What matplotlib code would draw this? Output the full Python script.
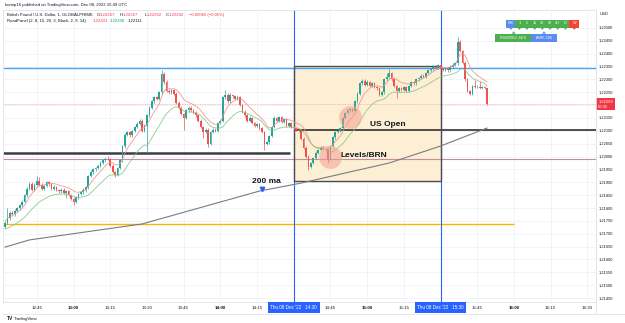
import numpy as np
import pandas as pd
import matplotlib
matplotlib.use("Agg")
import matplotlib.pyplot as plt
from matplotlib.patches import Rectangle, Polygon

plt.rcParams['font.family'] = ['Liberation Sans', 'DejaVu Sans']

# GBP/USD 1 minute candles from 12:32 to 15:49
# values are points above 1.22000 (1 point = 0.00001)
base = 1.22
start_minute = 32  # minutes after 12:00

opens_pts = [
    -274, -258, -240, -218, -225, -210, -200, -190, -175, -150,
    -125, -105, -128, -110, -95, -110, -125, -115, -100, -108,
    -125, -118, -130, -135, -128, -140, -135, -150, -165, -175,
    -158, -145, -138, -130, -120, -75, -60, -50, -45, -35,
    -25, -15, -8, -10, -35, -60, -72, -45, -15, 40,
    85, 95, 82, 100, 115, 128, 140, 100, 120, 160,
    190, 215, 230, 225, 250, 320, 290, 255, 250, 258,
    245, 210, 190, 165, 150, 180, 190, 180, 170, 160,
    140, 115, 95, 105, 50, 95, 105, 100, 130, 140,
    230, 240, 215, 240, 235, 225, 230, 200, 175, 160,
    140, 150, 130, 120, 125, 110, 95, 50, 55, 80,
    115, 150, 140, 152, 135, 145, 120, 130, 115, 110,
    105, 100, 70, 35, 0, -40, -25, -5, 15, 25,
    35, 30, 28, -10, 40, 75, 95, 100, 110, 150,
    170, 180, 185, 178, 215, 245, 285, 295, 280, 290,
    275, 285, 270, 265, 240, 250, 300, 310, 325, 300,
    275, 255, 265, 260, 270, 255, 275, 290, 285, 300,
    305, 315, 310, 325, 335, 340, 350, 345, 355, 345,
    338, 342, 335, 350, 358, 362, 445, 410, 365, 300,
    255, 245, 275, 270, 272, 268, 270, 267,
]
highs_pts = [
    -252, -200, -212, -212, -204, -195, -184, -170, -145, -118,
    -98, -100, -104, -75, -80, -104, -110, -94, -95, -102,
    -112, -113, -125, -122, -123, -130, -130, -145, -160, -152,
    -140, -132, -124, -114, -70, -54, -44, -40, -30, -19,
    -9, 0, 2, -5, -30, -55, -40, -10, 46, 92,
    101, 100, 105, 120, 133, 146, 145, 126, 165, 196,
    220, 236, 235, 256, 337, 330, 296, 262, 263, 263,
    250, 215, 195, 170, 185, 196, 195, 185, 176, 165,
    145, 120, 110, 110, 100, 111, 110, 136, 146, 236,
    259, 246, 246, 245, 240, 236, 235, 205, 180, 165,
    156, 155, 135, 130, 130, 115, 100, 60, 85, 120,
    156, 155, 158, 157, 150, 150, 136, 135, 120, 115,
    110, 105, 75, 40, 5, -20, 0, 20, 30, 40,
    40, 35, 33, 45, 80, 100, 105, 116, 155, 175,
    185, 190, 190, 220, 250, 290, 300, 300, 296, 295,
    290, 290, 275, 270, 255, 305, 325, 340, 330, 305,
    280, 270, 270, 275, 275, 280, 295, 295, 305, 310,
    320, 320, 330, 340, 345, 356, 355, 360, 360, 350,
    347, 347, 355, 363, 367, 465, 455, 415, 370, 305,
    260, 280, 298, 277, 295, 275, 275, 267,
]
lows_pts = [
    -280, -263, -246, -231, -230, -215, -206, -195, -180, -156,
    -131, -134, -133, -116, -115, -131, -130, -120, -113, -131,
    -131, -135, -141, -140, -146, -160, -155, -170, -188, -180,
    -163, -150, -144, -136, -125, -80, -66, -55, -50, -40,
    -30, -20, -15, -40, -65, -80, -77, -50, -20, 34,
    79, 77, 76, 95, 110, 122, 94, 95, 14, 155,
    185, 210, 219, 220, 245, 284, 250, 244, 245, 240,
    204, 185, 160, 103, 145, 175, 174, 165, 155, 134,
    110, 72, 90, 37, 45, 90, 95, 95, 125, 135,
    224, 210, 210, 229, 220, 220, 195, 170, 154, 135,
    135, 125, 115, 115, 105, 90, 26, 45, 50, 75,
    110, 135, 135, 130, 130, 115, 115, 110, 104, 100,
    95, 65, 30, -5, -52, -46, -30, -10, 10, 20,
    25, 23, -25, -15, 35, 70, 90, 95, 105, 145,
    165, 175, 172, 173, 210, 240, 280, 274, 275, 270,
    270, 265, 260, 234, 235, 245, 295, 305, 295, 270,
    228, 250, 255, 255, 250, 250, 270, 280, 280, 295,
    300, 305, 305, 320, 330, 335, 340, 340, 340, 333,
    333, 330, 330, 345, 353, 357, 405, 360, 295, 250,
    240, 240, 265, 265, 263, 263, 262, 202,
]
closes_pts = [
    -258, -240, -218, -225, -210, -200, -190, -175, -150, -125,
    -105, -128, -110, -95, -110, -125, -115, -100, -108, -125,
    -118, -130, -135, -128, -140, -135, -150, -165, -175, -158,
    -145, -138, -130, -120, -75, -60, -50, -45, -35, -25,
    -15, -8, -10, -35, -60, -72, -45, -15, 40, 85,
    95, 82, 100, 115, 128, 140, 100, 120, 160, 190,
    215, 230, 225, 250, 320, 290, 255, 250, 258, 245,
    210, 190, 165, 150, 180, 190, 180, 170, 160, 140,
    115, 95, 105, 50, 95, 105, 100, 130, 140, 230,
    240, 215, 240, 235, 225, 230, 200, 175, 160, 140,
    150, 130, 120, 125, 110, 95, 50, 55, 80, 115,
    150, 140, 152, 135, 145, 120, 130, 115, 110, 105,
    100, 70, 35, 0, -40, -25, -5, 15, 25, 35,
    30, 28, -10, 40, 75, 95, 100, 110, 150, 170,
    180, 185, 178, 215, 245, 285, 295, 280, 290, 275,
    285, 270, 265, 240, 250, 300, 310, 325, 300, 275,
    255, 265, 260, 270, 255, 275, 290, 285, 300, 305,
    315, 310, 325, 335, 340, 350, 345, 355, 345, 338,
    342, 335, 350, 358, 362, 445, 410, 365, 300, 255,
    245, 275, 270, 272, 268, 270, 267, 203,
]

# 200 ma read at a few candles
ma200_idx = [0, 10, 56, 104, 121, 157, 178, 197]
ma200_pts = [-352, -324, -262, -134, -103, -25, 41, 111]

# drawn levels
level_blue = 1.22343
level_black_left = 1.22014
level_rose = 1.21991
level_us_open = 1.22103
level_orange = 1.21738
last_price = 1.22203
box_top, box_bottom = 1.22352, 1.21906
box_start, box_end = 150, 210        # 14:30 -> 15:30
session_lines = [150, 210]

# annotations (minute, price)
circles = [(173, 1.22154), (164.8, 1.22000)]
notes = [("US Open", 188.5, 1.22125), ("Levels/BRN", 178.7, 1.22004), ("200 ma", 139, 1.21902)]
ma_arrow = (137.1, 1.21874)

tick_minutes = list(range(45, 271, 15))
price_ticks = np.arange(1.2145, 1.22501, 0.0005)

o = base + np.array(opens_pts) / 1e5
h = base + np.array(highs_pts) / 1e5
l = base + np.array(lows_pts) / 1e5
c = base + np.array(closes_pts) / 1e5
t = start_minute + np.arange(len(closes_pts))

fig = plt.figure(figsize=(6.25, 3.23), dpi=100)
ax = fig.add_axes([3 / 625, 21 / 323, 593 / 625, 292 / 323])
ax.set_xlim(31.18, 273.52)
ax.set_ylim(1.214346, 1.225699)

ax.set_xticks(tick_minutes)
ax.set_yticks(price_ticks)
ax.grid(True, color='#f0f3fa', lw=0.6, zorder=0)
ax.set_axisbelow(True)
for s in ax.spines.values():
    s.set_color('#e0e3eb')
    s.set_linewidth(0.6)

labels = []
for m in tick_minutes:
    hh, mm = 12 + m // 60, m % 60
    labels.append('' if m in session_lines else f"{hh}:{mm:02d}")
ax.set_xticklabels(labels)
for lab, m in zip(ax.get_xticklabels(), tick_minutes):
    if m % 60 == 0:
        lab.set_fontweight('bold')
ax.tick_params(axis='x', length=0, pad=2.6, labelsize=3.2, labelcolor='#131722')
ax.yaxis.tick_right()
# the last price tag covers the 1.22200 label
ax.set_yticklabels(['' if abs(p - 1.222) < 1e-6 else f"{p:.5f}" for p in price_ticks])
ax.tick_params(axis='y', length=0, pad=2.2, labelsize=2.9, labelcolor='#131722')

# box: fill under everything, outline over the session lines
ax.add_patch(Rectangle((box_start, box_bottom), box_end - box_start, box_top - box_bottom,
                       fc='#fdefd4', ec='none', zorder=1))
ax.add_patch(Rectangle((box_start, box_bottom), box_end - box_start, box_top - box_bottom,
                       fc='none', ec='#4e4e4e', lw=1.0, zorder=2.5))

# levels
ax.axhline(level_blue, color='#42a5f5', lw=1.0, zorder=2)
ax.axhline(level_rose, color='#c38f9c', lw=0.8, zorder=2)
ax.axhline(last_price, color='#f7a9a9', lw=0.6, ls=(0, (1, 1)), zorder=2)
ax.hlines(level_black_left, 31.18, 148.5, color='#3a3d45', lw=1.8, zorder=2)
ax.hlines(level_us_open, box_start, 273.52, color='#1e1e1e', lw=1.1, zorder=2)
ax.hlines(level_orange, 31.18, 240, color='#ffb300', lw=1.0, zorder=2)
for m in session_lines:
    ax.axvline(m, color='#2962ff', lw=0.8, zorder=2)

# candles
colors = np.where(c >= o, '#26a69a', '#ef5350')
ax.vlines(t, l, h, colors=colors, lw=0.5, zorder=3)
body = np.maximum(np.abs(c - o), 0.000008)
ax.bar(t, body, bottom=np.minimum(o, c), width=0.7, color=colors, lw=0, zorder=3)

# moving averages
ema_fast = pd.Series(h).ewm(span=8, adjust=False).mean()
ema_slow = pd.Series(l).ewm(span=15, adjust=False).mean()
ax.plot(t, ema_fast, color='#f28e86', lw=0.6, alpha=0.9, zorder=4)
ax.plot(t, ema_slow, color='#81c784', lw=0.6, alpha=0.9, zorder=4)
ax.plot(start_minute + np.array(ma200_idx), base + np.array(ma200_pts) / 1e5,
        color='#787b86', lw=0.8, zorder=4)

for cx, cy in circles:
    ax.plot(cx, cy, 'o', ms=16, mfc='#f4978e', mec='#f9c3a3', mew=0.8, alpha=0.5, zorder=5)
for txt, tx, ty in notes:
    ax.text(tx, ty, txt, fontsize=6, fontweight='bold', color='#131722',
            ha='center', va='center', zorder=6)
ax.plot(*ma_arrow, marker='v', ms=3.2, color='#2962ff', zorder=6)

# axis labels for the session lines and last price
for m in session_lines:
    ax.text(m, -0.0188, f"Thu 08 Dec '22   {12 + m // 60}:{m % 60:02d}",
            transform=ax.get_xaxis_transform(), ha='center', va='center',
            fontsize=3.3, color='white', clip_on=False,
            bbox=dict(boxstyle='square,pad=0.55', fc='#2962ff', ec='none'))
ax.text(1.004, last_price, "1.22203\n00:35", transform=ax.get_yaxis_transform(),
        ha='left', va='center', fontsize=3.0, color='white', clip_on=False,
        linespacing=1.1, zorder=10,
        bbox=dict(boxstyle='square,pad=0.45', fc='#f23645', ec='none'))

# overlay in pixel coordinates for header, legend and panel
ov = fig.add_axes([0, 0, 1, 1], zorder=10)
ov.set_xlim(0, 625)
ov.set_ylim(323, 0)
ov.axis('off')
ov.patch.set_alpha(0)

dark, red, green = '#131722', '#f23645', '#089981'
ov.text(5, 5, "kurnip16 published on TradingView.com, Dec 08, 2022 15:49 UTC",
        fontsize=3.1, color=dark, va='center')
line1 = [("British Pound / U.S. Dollar, 1, GLOBALPRIME", 6.7, dark), ("O", 96.5, dark),
         ("1.22267", 99.2, red), ("H", 120, dark), ("1.22267", 123, red),
         ("L", 144.5, dark), ("1.22202", 147, red), ("C", 165.5, dark),
         ("1.22202", 168.5, red), ("\u22120.00065 (\u22120.05%)", 189, red)]
for txt, x, col in line1:
    ov.text(x, 15, txt, fontsize=3.1, color=col, va='center')
line2 = [("RoadPanel (2, 8, 15, 20, 3, Black, 2, 9, 14)", 6.7, dark),
         ("1.22301", 92.7, red), ("1.22206", 110, green), ("1.22111", 128, dark)]
for txt, x, col in line2:
    ov.text(x, 21, txt, fontsize=3.1, color=col, va='center')

ov.text(600, 14, "USD", fontsize=3.0, color=dark, va='center')

# trend panel
panel_labels = ["SM", "1", "5", "15", "30", "60", "4H", "D", "W"]
panel_colors = ['#5b8def'] + ['#4caf50'] * 7 + ['#f44336']
x0 = 506.3
widths = [9.1] + [7.7] * 7 + [10]
for lab, col, w in zip(panel_labels, panel_colors, widths):
    ov.add_patch(Rectangle((x0, 19.5), w, 8, fc=col, ec='none'))
    ov.add_patch(Polygon([(x0 + w / 2 - 2, 27.5), (x0 + w / 2 + 2, 27.5), (x0 + w / 2, 29.8)],
                         fc=col, ec='none'))
    ov.text(x0 + w / 2, 23.5, lab, fontsize=2.7, color='white', ha='center', va='center')
    x0 += w
ov.add_patch(Rectangle((495, 33.7), 36, 8.3, fc='#4caf50', ec='none'))
ov.add_patch(Polygon([(511.7, 33.7), (515.7, 33.7), (513.7, 31.3)], fc='#4caf50', ec='none'))
ov.text(513, 37.9, "RS2/RSI2: 68.6", fontsize=2.7, color='white', ha='center', va='center')
ov.add_patch(Rectangle((531, 33.7), 25.5, 8.3, fc='#5b8def', ec='none'))
ov.add_patch(Polygon([(542, 33.7), (546, 33.7), (544, 31.3)], fc='#5b8def', ec='none'))
ov.text(543.7, 37.9, "ADR: 105", fontsize=2.7, color='white', ha='center', va='center')

# axis frame lines
ov.plot([3, 625], [314, 314], color='#e0e3eb', lw=0.6)
ov.plot([596, 596], [10, 314], color='#e0e3eb', lw=0.6)
ov.text(7, 319, "TV", fontsize=3.6, fontweight='bold', color=dark, va='center')
ov.text(14, 319, "TradingView", fontsize=3.2, color=dark, va='center')

fig.savefig('out.png', dpi=100)
